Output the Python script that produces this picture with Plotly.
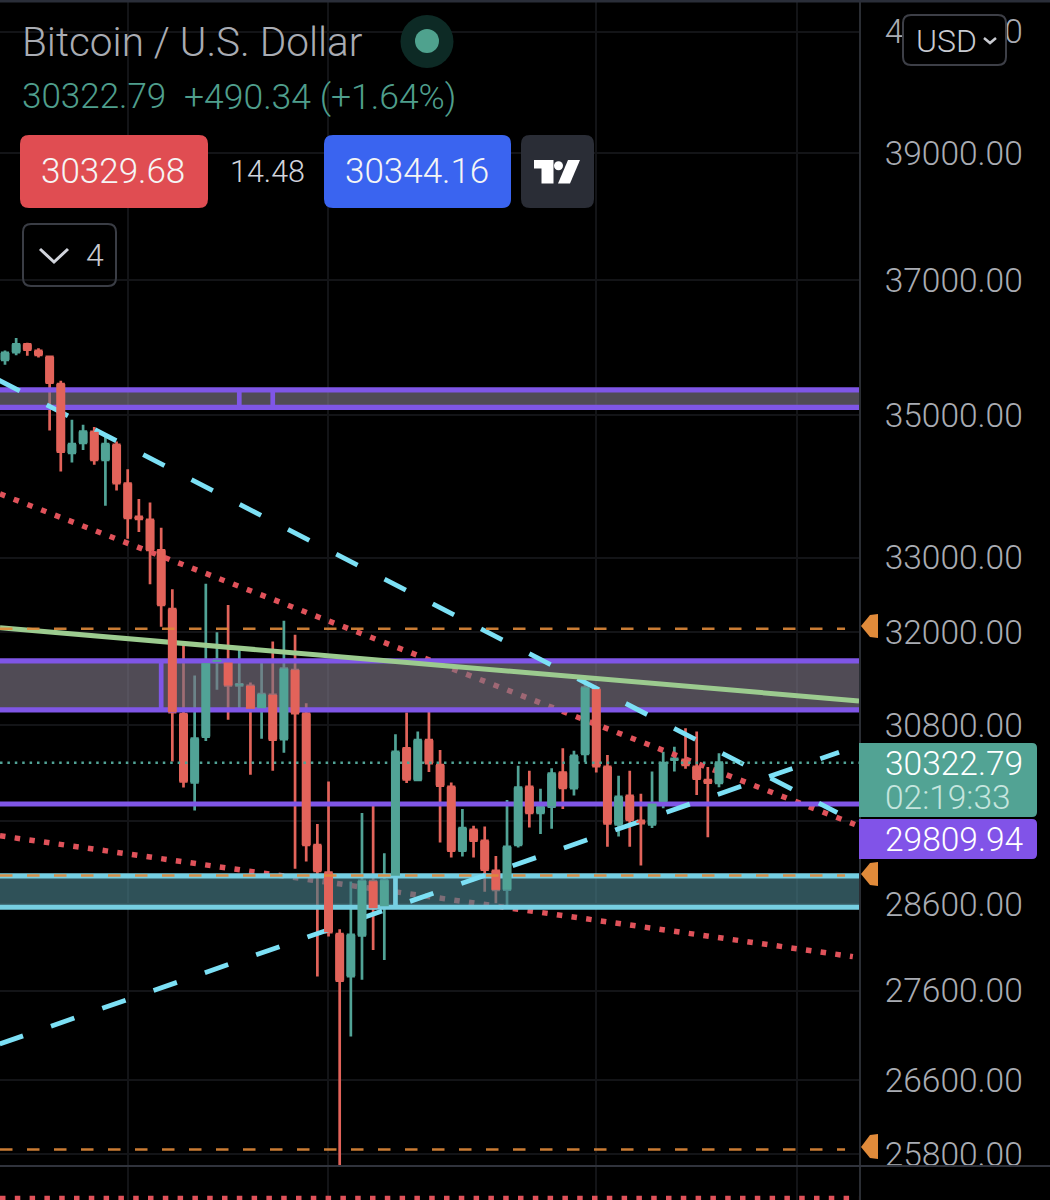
import plotly.graph_objects as go

# candle data
opens = [35807, 35920, 36038, 35939, 35851, 35451, 34458, 34601, 34759, 34359, 34572, 34026, 33561,
         33520, 33101, 32306, 30936, 30077, 30651, 31611, 31602, 31306, 31300, 31012, 31183, 30618,
         31504, 30944, 29307, 28979, 28250, 27765, 28235, 28875, 28578, 28941, 30504, 30109, 30605,
         30292, 30022, 29241, 29494, 29360, 29000, 28775, 29311, 30022, 29701, 29778, 30200, 30006,
         30432, 31257, 30271, 29559, 29910, 29604, 29559, 29839, 30360, 30359, 30271, 30105, 30071]
highs = [35944, 36132, 36062, 35979, 35866, 35499, 34932, 34860, 34827, 34692, 34620, 34228, 33810,
         33759, 33409, 32574, 31877, 31433, 32645, 32001, 32363, 31789, 31343, 31646, 31877, 32151,
         31966, 31076, 29564, 30088, 28309, 28871, 29698, 29799, 29210, 30682, 30956, 30715, 30969,
         30482, 30077, 29747, 29543, 29534, 29178, 29860, 30283, 30221, 29997, 30254, 30504, 30473,
         31404, 31274, 30420, 30159, 30221, 29935, 30213, 30461, 30524, 30758, 30715, 30267, 30440]
lows = [35734, 35876, 35866, 35841, 34778, 34194, 34321, 34500, 34289, 33713, 33927, 33257, 33353,
        32641, 32072, 30336, 30013, 29729, 30596, 31248, 30864, 30991, 30171, 30622, 30221, 30448,
        29023, 29110, 27761, 28222, 25684, 27081, 27723, 28067, 27952, 28594, 30068, 30096, 30205,
        29339, 29158, 29170, 29158, 28751, 28613, 28566, 29278, 29522, 29442, 29506, 29747, 29914,
        30329, 30200, 29290, 29412, 29290, 29062, 29515, 29759, 30212, 30246, 29922, 29405, 30016]
closes = [35910, 36038, 35958, 35881, 35470, 34476, 34582, 34764, 34359, 34582, 34031, 33547, 33533,
          33105, 32363, 30962, 30088, 30626, 31594, 31637, 31304, 31319, 31004, 31192, 30613, 31524,
          30949, 29311, 28999, 28274, 27715, 28243, 28879, 28555, 28887, 30457, 30113, 30605, 30317,
          30038, 29241, 29515, 29363, 29014, 28772, 29287, 30013, 29701, 29775, 30187, 30009, 30407,
          31278, 30279, 29572, 29897, 29616, 29576, 29815, 30317, 30372, 30295, 30122, 30075, 30322.79]
candle_x = list(range(len(opens)))

# levels and drawings
upper_zone = [35113, 35367]
upper_zone_marks = [21, 24]
middle_zone = [30991, 31624]
middle_zone_mark = [14]
lower_zone = [28566, 28939]
lower_zone_mark = [35]
purple_level = 29809.94
last_price = 30322.79
orange_levels = [32045, 28943, 25848]
falling_x, falling_y = [-0.59, 74.6], [35511, 29705]
rising_x, rising_y = [-0.475, 74.76], [26999, 30453]
red_high_x, red_high_y = [-0.448, 76.19], [33880, 29559]
red_low_x, red_low_y = [-0.448, 76.0], [29421, 27990]
red_bottom_x, red_bottom_y = [-0.448, 76.5], [25330, 25330]
green_x, green_y = [-0.448, 76.55], [32058, 31105]

y_ticks = [41000, 39000, 37000, 35000, 33000, 32000, 30800, 29600, 28600, 27600, 26600, 25800]
y_labels = ["41000.00", "39000.00", "37000.00", "35000.00", "33000.00", "32000.00", "30800.00", "",
            "28600.00", "27600.00", "26600.00", "25800.00"]
x_grid = [11.03, 28.95, 52.98, 70.99]

X_MIN, X_MAX = -0.448, 76.55
Y_TOP, Y_BOTTOM = 4.61847, 4.40338  # log10 price at top and bottom of page
W, H = 1050, 1200
CHART_RIGHT = 859

RED = "#e2635a"
GREEN = "#51a396"
PURPLE = "#7f56e6"
CYAN = "#76cfe2"
DASH_CYAN = "#7ce0f5"
ORANGE = "#e08a3a"
TEXT = "#a9acb3"
FONT = "Roboto"
GRID = "#131417"


def px(x):
    return x / W


def py(y):
    return 1 - y / H


def line(x, y, color, width, dash="solid"):
    return go.Scatter(x=x, y=y, mode="lines", line=dict(color=color, width=width, dash=dash),
                      hoverinfo="skip", showlegend=False)


def zone(low, high, fill):
    return go.Scatter(x=[X_MIN, X_MAX, X_MAX, X_MIN, X_MIN], y=[low, low, high, high, low],
                      mode="lines", line=dict(width=0), fill="toself", fillcolor=fill,
                      hoverinfo="skip", showlegend=False)


def rounded(x0, y0, x1, y1, r, left=True):
    # rounded box in page pixels, as a path in paper units
    rl = r if left else 0
    pts = [
        f"M {px(x0 + rl)} {py(y0)}", f"L {px(x1 - r)} {py(y0)}",
        f"Q {px(x1)} {py(y0)} {px(x1)} {py(y0 + r)}", f"L {px(x1)} {py(y1 - r)}",
        f"Q {px(x1)} {py(y1)} {px(x1 - r)} {py(y1)}", f"L {px(x0 + rl)} {py(y1)}",
        f"Q {px(x0)} {py(y1)} {px(x0)} {py(y1 - rl)}", f"L {px(x0)} {py(y0 + rl)}",
        f"Q {px(x0)} {py(y0)} {px(x0 + rl)} {py(y0)}", "Z",
    ]
    return " ".join(pts)


def poly(points):
    return "M " + " L ".join(f"{px(a)} {py(b)}" for a, b in points) + " Z"


def open_poly(points):
    return "M " + " L ".join(f"{px(a)} {py(b)}" for a, b in points)


def box(path, fill, border=None, width=0):
    return dict(type="path", xref="paper", yref="paper", path=path, fillcolor=fill,
                line=dict(color=border or fill, width=width), layer="above")


def label(text, x, y, size, color):
    return dict(text=text, xref="paper", yref="paper", x=px(x), y=py(y), xanchor="left", yanchor="middle",
                showarrow=False, font=dict(family=FONT, size=size, color=color, weight=300))


def bodies(rising):
    # thick segments give the candle bodies their full width
    xs, ys = [], []
    for i, (o, c) in enumerate(zip(opens, closes)):
        if (c >= o) == rising:
            xs += [i, i, None]
            ys += [o, c, None]
    return xs, ys


fig = go.Figure()

# dotted lines sit under the zones
fig.add_trace(line(red_high_x, red_high_y, "#e0525a", 5.5, "5.5px,9.2px"))
fig.add_trace(line(red_low_x, red_low_y, "#e0525a", 5.5, "5.5px,9.3px"))
fig.add_trace(line(red_bottom_x, red_bottom_y, "#e0525a", 5.5, "5.5px,9.3px"))

fig.add_trace(zone(*upper_zone, "rgba(123,115,130,0.65)"))
fig.add_trace(zone(*middle_zone, "rgba(123,115,130,0.65)"))
fig.add_trace(zone(*lower_zone, "rgba(72,125,135,0.65)"))
for level in upper_zone + middle_zone:
    fig.add_trace(line([X_MIN, X_MAX], [level, level], PURPLE, 5.2))
for mark in upper_zone_marks:
    fig.add_trace(line([mark, mark], upper_zone, PURPLE, 4.7))
for mark in middle_zone_mark:
    fig.add_trace(line([mark, mark], middle_zone, PURPLE, 4.7))
for level in lower_zone:
    fig.add_trace(line([X_MIN, X_MAX], [level, level], CYAN, 5.2))
for mark in lower_zone_mark:
    fig.add_trace(line([mark, mark], lower_zone, CYAN, 4.7))
fig.add_trace(line([X_MIN, X_MAX], [purple_level, purple_level], PURPLE, 5.2))

fig.add_trace(line(falling_x, falling_y, DASH_CYAN, 4.8, "24px,30.3px"))
fig.add_trace(line(rising_x, rising_y, DASH_CYAN, 4.8, "24.7px,29.6px"))
fig.add_trace(line(green_x, green_y, "#9ccb8f", 5))

fig.add_trace(go.Candlestick(
    x=candle_x, open=opens, high=highs, low=lows, close=closes,
    increasing=dict(line=dict(color=GREEN, width=2.7), fillcolor=GREEN),
    decreasing=dict(line=dict(color=RED, width=2.7), fillcolor=RED),
    whiskerwidth=0, hoverinfo="skip", showlegend=False,
))
green_bx, green_by = bodies(True)
red_bx, red_by = bodies(False)
fig.add_trace(line(green_bx, green_by, GREEN, 9))
fig.add_trace(line(red_bx, red_by, RED, 9))

# orange levels and last price go over the candles
for level in orange_levels:
    fig.add_trace(line([X_MIN, 75.3], [level, level], "rgba(224,138,58,0.9)", 2.5, "12.5px,14.5px"))
fig.add_trace(line([X_MIN, X_MAX], [last_price, last_price], GREEN, 2.5, "2.5px,4.9px"))

shapes = [
    dict(type="line", xref="paper", yref="paper", x0=0, x1=1, y0=py(1), y1=py(1),
         line=dict(color="#2a2e39", width=3), layer="above"),
    dict(type="line", xref="paper", yref="paper", x0=0, x1=1, y0=py(1166), y1=py(1166),
         line=dict(color="#30333c", width=2), layer="above"),
    # status dot
    dict(type="circle", xref="paper", yref="paper", x0=px(400.5), x1=px(453.5), y0=py(68), y1=py(15),
         fillcolor="#0d2a25", line=dict(width=0), layer="above"),
    dict(type="circle", xref="paper", yref="paper", x0=px(415), x1=px(439), y0=py(53), y1=py(29),
         fillcolor="#4fa28e", line=dict(width=0), layer="above"),
    # buttons
    box(rounded(20, 135, 208, 208, 9), "#e04d52"),
    box(rounded(324, 135, 511, 208, 9), "#3a64f0"),
    box(rounded(521, 135, 594, 208, 9), "#2a2d36"),
    box(poly([(534, 160), (553.5, 160), (553.5, 183.5), (541.5, 183.5), (541.5, 168.5), (534, 168.5)]), "#ffffff"),
    dict(type="circle", xref="paper", yref="paper", x0=px(554), x1=px(563), y0=py(170.2), y1=py(161.2),
         fillcolor="#ffffff", line=dict(width=0), layer="above"),
    box(poly([(568, 160), (580, 160), (570, 183.5), (558, 183.5)]), "#ffffff"),
    box(rounded(23, 224, 116, 286, 8), "rgba(0,0,0,0)", "#3a3d45", 2),
    dict(type="path", xref="paper", yref="paper", path=open_poly([(40, 249), (54, 262), (68, 249)]),
         line=dict(color="#d1d4dc", width=3), layer="above"),
    # USD selector
    box(rounded(903, 15, 1006, 65, 8), "#000000", "#3d3f47", 2),
    dict(type="path", xref="paper", yref="paper", path=open_poly([(984, 38), (990, 43), (996, 38)]),
         line=dict(color="#c8cad0", width=2.5), layer="above"),
    # price tags
    box(rounded(859, 743, 1037, 817, 5, left=False), "#52a394"),
    box(rounded(859, 819, 1037, 859, 5, left=False), "#8153e8"),
]
# orange markers on the scale
for top, tip, bottom in [(614, 626, 638), (862, 874, 886), (1134, 1147, 1159)]:
    shapes.append(box(poly([(861, tip), (870, top + 1), (878, top), (878, bottom), (870, bottom - 1)]), ORANGE))

annotations = [
    label("Bitcoin / U.S. Dollar", 20, 42, 40.5, "#a9acb3"),
    label("30322.79", 20, 97, 35, "#4f9e8c"),
    label("+490.34 (+1.64%)", 182, 97, 35.5, "#4f9e8c"),
    label("30329.68", 39, 172, 35, "#f5f5f5"),
    label("14.48", 228, 172, 30.5, "#d1d4dc"),
    label("30344.16", 343, 172, 35, "#f5f5f5"),
    label("4", 84, 255, 32, "#c8cad0"),
    label("USD", 914, 41, 32, "#c8cad0"),
    label("30322.79", 883, 763, 33.5, "#ffffff"),
    label("02:19:33", 883, 797, 33.5, "#c5e5de"),
    label("29809.94", 883, 839, 33.5, "#ffffff"),
]

fig.update_layout(
    width=W, height=H, autosize=False,
    margin=dict(l=0, r=0, t=0, b=0, pad=0),
    paper_bgcolor="#000000", plot_bgcolor="#000000",
    showlegend=False, dragmode=False,
    shapes=shapes, annotations=annotations,
    xaxis=dict(
        domain=[0, CHART_RIGHT / W], range=[X_MIN, X_MAX], tickmode="array", tickvals=x_grid,
        showticklabels=False, ticks="", showgrid=True, gridcolor=GRID, gridwidth=2,
        zeroline=False, rangeslider=dict(visible=False),
    ),
    yaxis=dict(
        type="log", range=[Y_BOTTOM, Y_TOP], side="right", tickmode="array", tickvals=y_ticks, ticktext=y_labels,
        ticks="outside", ticklen=17, tickcolor="rgba(0,0,0,0)",
        tickfont=dict(family=FONT, size=33.5, color=TEXT, weight=300),
        showgrid=True, gridcolor=GRID, gridwidth=2, zeroline=False,
        showline=True, linecolor="#2a2d33", linewidth=2, automargin=False,
    ),
)

fig.write_html(
    "out.html",
    config={"displayModeBar": False, "staticPlot": True},
    post_script="document.body.style.margin='0';document.body.style.background='#000';document.body.style.overflow='hidden';",
)
